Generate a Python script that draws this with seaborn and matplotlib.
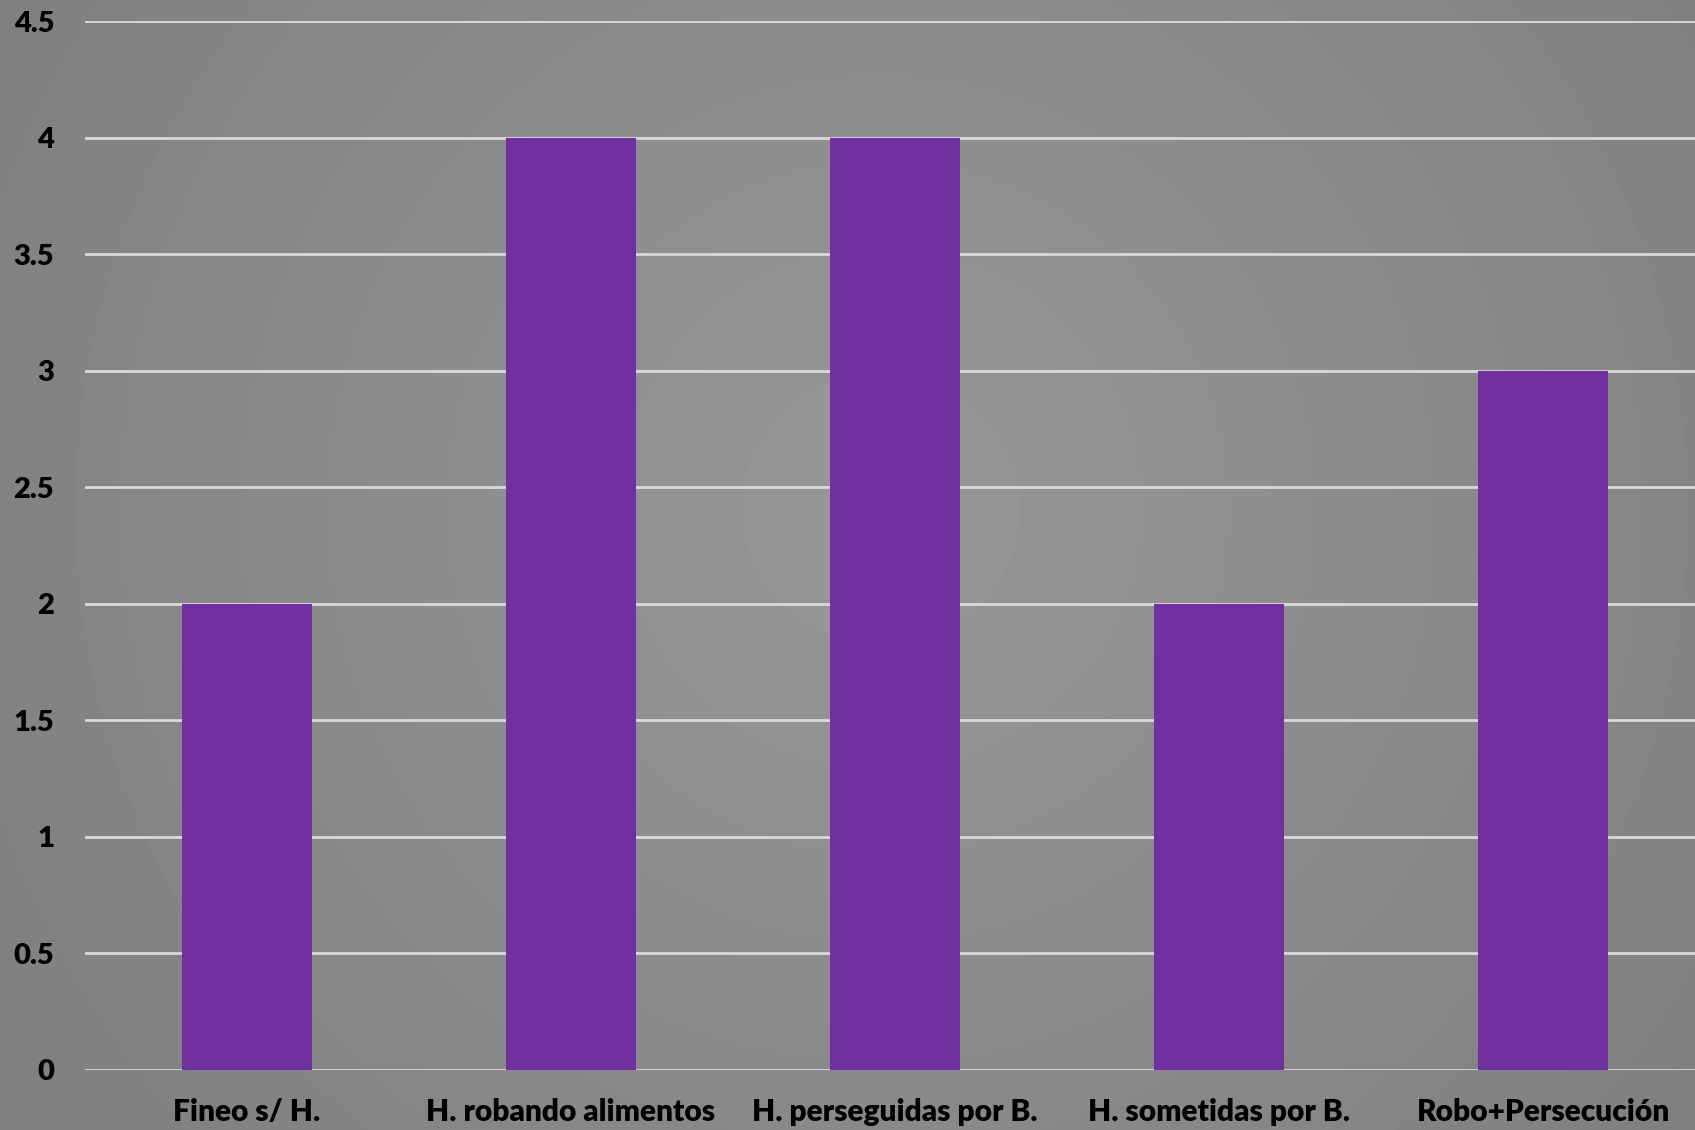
# grafico de barras - harpias
import numpy as np
import pandas as pd
import matplotlib.pyplot as plt
import seaborn as sns

# dados
categorias = ['Fineo s/ H.', 'H. robando alimentos', 'H. perseguidas por B.',
              'H. sometidas por B.', 'Robo+Persecución']
valores = [2, 4, 4, 2, 3]
ticks_y = [0, 0.5, 1, 1.5, 2, 2.5, 3, 3.5, 4, 4.5]
rotulos_y = ['0', '0.5', '1', '1.5', '2', '2.5', '3', '3.5', '4', '4.5']

df = pd.DataFrame({'categoria': categorias, 'valor': valores})

sns.set_style('white')
plt.rcParams['font.family'] = ['Lato', 'DejaVu Sans']

fig = plt.figure(figsize=(16.95, 11.3), dpi=100)

# fundo com gradiente radial cinza
fundo = fig.add_axes([0, 0, 1, 1], zorder=0)
yy, xx = np.mgrid[0:1:300j, 0:1:450j]
dist = np.sqrt(((xx - 0.52) * 1.5) ** 2 + (yy - 0.45) ** 2)
cinza = 0.595 - 0.095 * np.clip(dist / 0.9, 0, 1)
fundo.imshow(cinza, cmap='gray', vmin=0, vmax=1, aspect='auto',
             extent=[0, 1, 0, 1], interpolation='bilinear')
fundo.axis('off')

ax = fig.add_axes([0.0500, 0.0531, 0.9560, 0.9283], zorder=1)
ax.patch.set_alpha(0)

sns.barplot(data=df, x='categoria', y='valor', color='#7030A0',
            saturation=1, width=0.4, linewidth=0, edgecolor='none',
            ax=ax, zorder=3)

ax.set_ylim(0, 4.5)
ax.set_xlim(-0.5, 4.5)
ax.set_yticks(ticks_y)
ax.set_yticklabels(rotulos_y)
ax.grid(axis='y', color='#d9d9d9', linewidth=2, zorder=0)
ax.set_axisbelow(True)
for lado in ['top', 'right', 'left', 'bottom']:
    ax.spines[lado].set_visible(False)
ax.tick_params(axis='both', length=0, colors='black')
ax.tick_params(axis='y', pad=22, labelsize=21)
ax.tick_params(axis='x', pad=20, labelsize=21.5)
for t in ax.get_xticklabels() + ax.get_yticklabels():
    t.set_fontweight('heavy')
ax.set_xlabel('')
ax.set_ylabel('')

plt.savefig('out.png', dpi=100)
